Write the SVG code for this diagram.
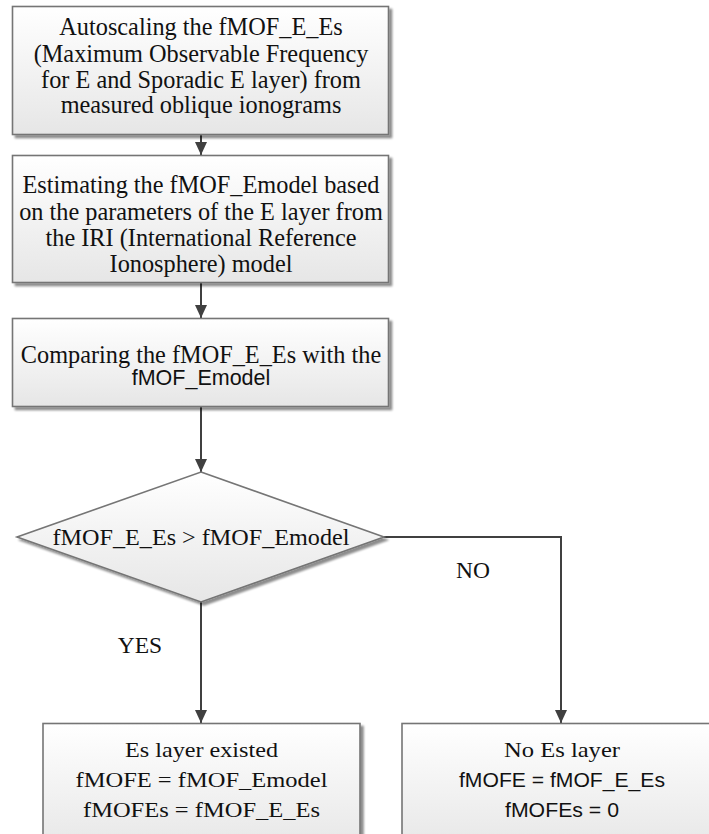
<svg xmlns="http://www.w3.org/2000/svg" width="709" height="834" viewBox="0 0 709 834">
  <style>
    .box { stroke: #757575; stroke-width: 1.6; fill: url(#g); filter: url(#sh); }
    .serif { font-family: "Liberation Serif", "Times New Roman", serif; fill: #111; text-anchor: middle; }
    .sans { font-family: "Liberation Sans", Arial, sans-serif; fill: #111; text-anchor: middle; }
    .t { font-size: 24.3px; }
    .conn { stroke: #404040; stroke-width: 2; fill: none; marker-end: url(#arrd); }
  </style>
  <defs>
    <linearGradient id="g" x1="0" y1="0" x2="0" y2="1">
      <stop offset="0" stop-color="#ffffff"/>
      <stop offset="1" stop-color="#e6e6e6"/>
    </linearGradient>
    <filter id="sh" x="-5%" y="-5%" width="115%" height="120%">
      <feGaussianBlur in="SourceAlpha" stdDeviation="1"/>
      <feOffset dx="2.5" dy="2.5" result="o"/>
      <feComponentTransfer><feFuncA type="linear" slope="0.45"/></feComponentTransfer>
      <feMerge><feMergeNode/><feMergeNode in="SourceGraphic"/></feMerge>
    </filter>
    <marker id="arrd" markerWidth="13" markerHeight="12" refX="13" refY="6" orient="auto" markerUnits="userSpaceOnUse" viewBox="0 0 13 12">
      <path d="M0,0 L13,6 L0,12 Z" fill="#404040"/>
    </marker>
  </defs>
  <rect width="709" height="834" fill="#ffffff"/>

  <g id="connectors">
    <path class="conn" d="M201,135 V155"/>
    <path class="conn" d="M201,283 V318"/>
    <path class="conn" d="M201,407 V472"/>
    <path class="conn" d="M201,602 V723"/>
    <path class="conn" d="M384,537 H561 V723"/>
    <text class="serif" x="473" y="578" font-size="23.5">NO</text>
    <text class="serif" x="140" y="653" font-size="23.5">YES</text>
  </g>

  <g id="node1">
    <rect class="box" x="12.5" y="6.5" width="376" height="128"/>
    <text class="serif t" x="201" y="35">Autoscaling the fMOF_E_Es</text>
    <text class="serif t" x="201" y="61.5">(Maximum Observable Frequency</text>
    <text class="serif t" x="201" y="87.5">for E and Sporadic E layer) from</text>
    <text class="serif t" x="201" y="113">measured oblique ionograms</text>
  </g>

  <g id="node2">
    <rect class="box" x="12.5" y="155.5" width="376" height="127"/>
    <text class="serif t" x="201" y="193">Estimating the fMOF_Emodel based</text>
    <text class="serif t" x="201" y="220">on the parameters of the E layer from</text>
    <text class="serif t" x="201" y="246">the IRI (International Reference</text>
    <text class="serif t" x="201" y="272">Ionosphere) model</text>
  </g>

  <g id="node3">
    <rect class="box" x="12.5" y="318.5" width="376" height="88"/>
    <text class="serif t" x="201" y="363">Comparing the fMOF_E_Es with the</text>
    <text class="sans" x="201" y="385" font-size="21.5">fMOF_Emodel</text>
  </g>

  <g id="decision">
    <polygon class="box" points="201,472 384,537 201,602 17,537"/>
    <text class="serif" x="201" y="545" font-size="23" textLength="297" lengthAdjust="spacingAndGlyphs">fMOF_E_Es &gt; fMOF_Emodel</text>
  </g>

  <g id="yesbox">
    <rect class="box" x="43" y="723.5" width="317" height="130"/>
    <text class="serif" x="201.5" y="757" font-size="22" textLength="153" lengthAdjust="spacingAndGlyphs">Es layer existed</text>
    <text class="serif" x="201.5" y="787" font-size="22" textLength="252" lengthAdjust="spacingAndGlyphs">fMOFE = fMOF_Emodel</text>
    <text class="serif" x="201.5" y="817" font-size="22" textLength="237" lengthAdjust="spacingAndGlyphs">fMOFEs = fMOF_E_Es</text>
  </g>

  <g id="nobox">
    <rect class="box" x="402" y="723.5" width="320" height="130"/>
    <text class="serif" x="562" y="757" font-size="22" textLength="116" lengthAdjust="spacingAndGlyphs">No Es layer</text>
    <text class="sans" x="562" y="787" font-size="20" textLength="206" lengthAdjust="spacingAndGlyphs">fMOFE = fMOF_E_Es</text>
    <text class="sans" x="562" y="817" font-size="20" textLength="114" lengthAdjust="spacingAndGlyphs">fMOFEs = 0</text>
  </g>
</svg>
